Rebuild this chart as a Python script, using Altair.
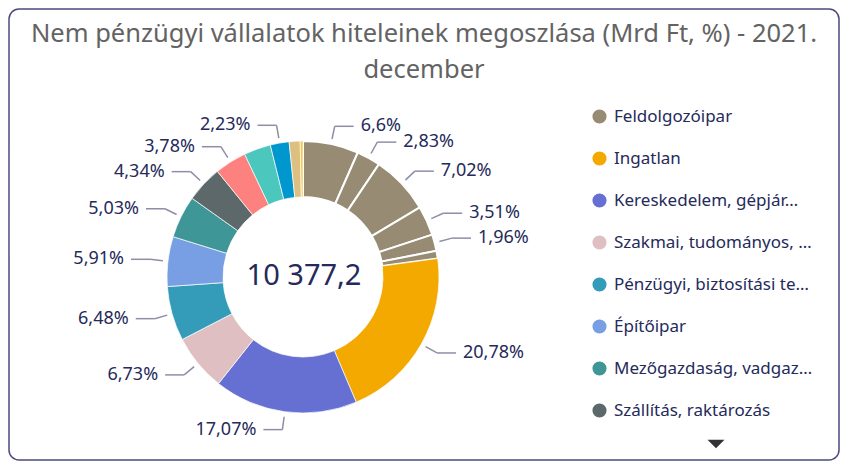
import math
import altair as alt
import pandas as pd

# ---------------- data ----------------
title_line1 = "Nem pénzügyi vállalatok hiteleinek megoszlása (Mrd Ft, %) - 2021."
title_line2 = "december"
total_mrd_ft = 10377.2

slice_category = [
    "Feldolgozóipar", "Feldolgozóipar", "Feldolgozóipar", "Feldolgozóipar",
    "Feldolgozóipar", "Feldolgozóipar",
    "Ingatlan",
    "Kereskedelem, gépjárműjavítás",
    "Szakmai, tudományos, műszaki tevékenység",
    "Pénzügyi, biztosítási tevékenység",
    "Építőipar",
    "Mezőgazdaság, vadgazdálkodás, erdőgazdálkodás, halászat",
    "Szállítás, raktározás",
    "Villamosenergia-, gáz-, gőzellátás, légkondicionálás",
    "Információ, kommunikáció",
    "Adminisztratív és szolgáltatást támogató tevékenység",
    "Szálláshely-szolgáltatás, vendéglátás",
    "Egyéb",
]
slice_share = [6.6, 2.83, 7.02, 3.51, 1.96, 0.9,
               20.78, 17.07, 6.73, 6.48, 5.91, 5.03, 4.34, 3.78, 3.2, 2.23, 1.3, 0.33]
slice_labelled = [1, 1, 1, 1, 1, 0,
                  1, 1, 1, 1, 1, 1, 1, 1, 0, 1, 0, 0]

legend_categories = [
    "Feldolgozóipar",
    "Ingatlan",
    "Kereskedelem, gépjárműjavítás",
    "Szakmai, tudományos, műszaki tevékenység",
    "Pénzügyi, biztosítási tevékenység",
    "Építőipar",
    "Mezőgazdaság, vadgazdálkodás, erdőgazdálkodás, halászat",
    "Szállítás, raktározás",
    "Villamosenergia-, gáz-, gőzellátás, légkondicionálás",
    "Információ, kommunikáció",
    "Adminisztratív és szolgáltatást támogató tevékenység",
    "Szálláshely-szolgáltatás, vendéglátás",
    "Egyéb",
]
legend_colors = [
    "#978B73", "#F4A900", "#6670D2", "#DFBFC1", "#349CB9", "#789FE3",
    "#3E9696", "#5C6869", "#FD817E", "#4CC7BD", "#0096CE", "#DDBF82", "#F5C842",
]
legend_visible = legend_categories[:8]

# ---------------- layout ----------------
PAD = 1
W, H = 830, 451
CX, CY = 303 - 8 - PAD, 277 - 8 - PAD
R_IN, R_OUT = 80, 136
R_LINE0, R_ELBOW, H_SEG, GAP = 141, 154, 19, 7
TEXT_COLOR = "#252A5A"
LINE_COLOR = "#8E8EA8"
FONT = "Noto Sans"

total_share = sum(slice_share)
rows = []
cum = 0.0
for i, (c, s, l) in enumerate(zip(slice_category, slice_share, slice_labelled)):
    mid = (cum + s / 2) / total_share * 2 * math.pi
    cum += s
    sx, cy = math.sin(mid), math.cos(mid)
    side = 1 if sx >= 0 else -1
    ex, ey = R_ELBOW * sx, R_ELBOW * cy
    rows.append(dict(
        idx=i, cat=c, share=s, show=l, side=side,
        x0=R_LINE0 * sx, y0=R_LINE0 * cy, x1=ex, y1=ey,
        x2=ex + side * H_SEG, xt=ex + side * (H_SEG + GAP),
        label=str(s).replace(".", ",") + "%",
    ))
df = pd.DataFrame(rows)

xs = alt.Scale(domain=[-CX, W - CX], range=[0, W])
ys = alt.Scale(domain=[-(H - CY), CY], range=[H, 0])

arcs = alt.Chart(df).mark_arc(innerRadius=R_IN, outerRadius=R_OUT, stroke="white").encode(
    theta=alt.Theta("share:Q", stack=True),
    order=alt.Order("idx:Q", sort="ascending"),
    color=alt.Color(
        "cat:N",
        scale=alt.Scale(domain=legend_categories, range=legend_colors),
        legend=alt.Legend(
            orient="none", legendX=582, legendY=99, values=legend_visible,
            title=None, symbolType="circle", symbolSize=200, symbolStrokeWidth=0,
            symbolOpacity=1, labelFont=FONT, labelFontSize=17, labelColor=TEXT_COLOR,
            labelLimit=202, rowPadding=24, labelOffset=6, padding=0,
        ),
    ),
    strokeWidth=alt.condition("datum.cat === 'Feldolgozóipar'", alt.value(2), alt.value(0.7)),
    x=alt.value(CX),
    y=alt.value(CY),
)

lab = alt.Chart(df).transform_filter("datum.show == 1")
rules1 = lab.mark_rule(color=LINE_COLOR, strokeWidth=1.5).encode(
    x=alt.X("x0:Q", scale=xs, axis=None), y=alt.Y("y0:Q", scale=ys, axis=None),
    x2="x1:Q", y2="y1:Q",
)
rules2 = lab.mark_rule(color=LINE_COLOR, strokeWidth=1.5).encode(
    x=alt.X("x1:Q", scale=xs, axis=None), y=alt.Y("y1:Q", scale=ys, axis=None),
    x2="x2:Q",
)
lab_r = lab.transform_filter("datum.side > 0").mark_text(
    align="left", baseline="middle", font=FONT, fontSize=18, color=TEXT_COLOR
).encode(x=alt.X("xt:Q", scale=xs, axis=None), y=alt.Y("y1:Q", scale=ys, axis=None), text="label:N")
lab_l = lab.transform_filter("datum.side < 0").mark_text(
    align="right", baseline="middle", font=FONT, fontSize=18, color=TEXT_COLOR
).encode(x=alt.X("xt:Q", scale=xs, axis=None), y=alt.Y("y1:Q", scale=ys, axis=None), text="label:N")

center_text = f"{total_mrd_ft:,.1f}".replace(",", " ").replace(".", ",")
center = alt.Chart(pd.DataFrame({"t": [center_text]})).mark_text(
    align="center", baseline="middle", font=FONT, fontSize=29, color=TEXT_COLOR
).encode(x=alt.value(CX + 1), y=alt.value(CY - 1), text="t:N")

t1 = alt.Chart(pd.DataFrame({"t": [title_line1]})).mark_text(
    align="center", baseline="middle", font=FONT, fontSize=25.5, color="#636363"
).encode(x=alt.value(424 - 8 - PAD), y=alt.value(34 - 8 - PAD), text="t:N")
t2 = alt.Chart(pd.DataFrame({"t": [title_line2]})).mark_text(
    align="center", baseline="middle", font=FONT, fontSize=25.5, color="#636363"
).encode(x=alt.value(424 - 8 - PAD), y=alt.value(70 - 8 - PAD), text="t:N")

arrow = alt.Chart(pd.DataFrame({"a": [0]})).mark_point(
    shape="M -1 -0.5 L 1 -0.5 L 0 0.5 Z", filled=True, size=289, color="#333333", opacity=1
).encode(x=alt.value(716 - 8 - PAD), y=alt.value(444 - 8 - PAD))

chart = alt.layer(arcs, rules1, rules2, lab_r, lab_l, center, t1, t2, arrow).properties(
    width=W, height=H, padding=PAD, autosize="none"
).configure_view(stroke="#4B4B7C", strokeWidth=1.5, cornerRadius=10)

chart.save("out.html", embed_options={"renderer": "svg", "actions": False})
